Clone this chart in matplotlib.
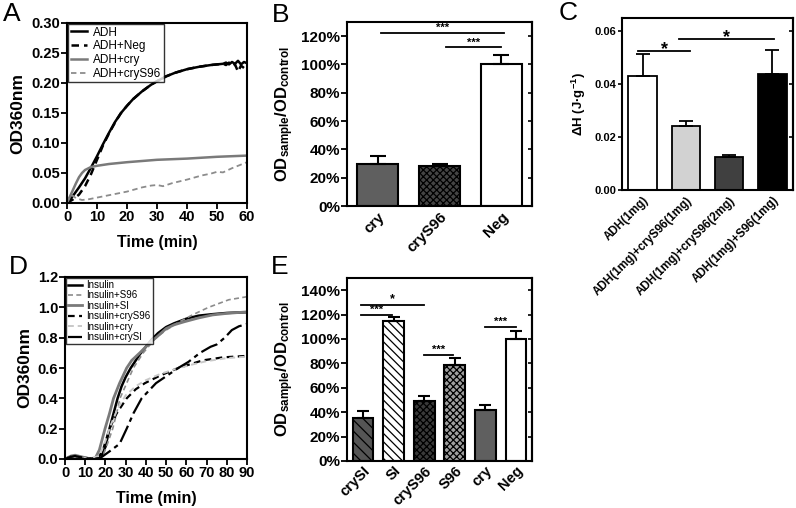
import matplotlib
matplotlib.use('Agg')
import matplotlib.pyplot as plt
import numpy as np

plt.rcParams['font.family'] = ['Liberation Sans', 'DejaVu Sans']
plt.rcParams['font.weight'] = 'bold'
plt.rcParams['mathtext.fontset'] = 'custom'
plt.rcParams['mathtext.rm'] = 'Liberation Sans'
plt.rcParams['mathtext.bf'] = 'Liberation Sans:bold'
plt.rcParams['mathtext.default'] = 'bf'
plt.rcParams['axes.linewidth'] = 1.5
plt.rcParams['hatch.linewidth'] = 0.9

# ---- panel A data (ADH aggregation, OD360 vs time) ----
t_adh = [0, 2, 4, 6, 7, 8, 10, 12, 14, 16, 18, 20, 22, 25, 28, 30, 33, 36, 40, 44, 48, 50,
         52, 53, 54, 55, 56, 57, 58, 59, 60]
od_adh = [0.0, 0.012, 0.026, 0.041, 0.05, 0.059, 0.078, 0.098, 0.117, 0.135, 0.15, 0.162,
          0.173, 0.186, 0.197, 0.203, 0.211, 0.217, 0.223, 0.227, 0.23, 0.231,
          0.232, 0.234, 0.231, 0.235, 0.232, 0.237, 0.231, 0.235, 0.233]
t_neg = [0, 2, 4, 6, 8, 10, 12, 14, 16, 18, 20, 22, 25, 28, 30, 33, 36, 40, 44, 48, 50,
         52, 53, 54, 55, 56, 57, 58, 59, 60]
od_neg = [0.0, 0.006, 0.014, 0.028, 0.048, 0.072, 0.096, 0.116, 0.134, 0.15, 0.162,
          0.173, 0.186, 0.197, 0.203, 0.211, 0.217, 0.223, 0.227, 0.23, 0.231,
          0.232, 0.23, 0.234, 0.228, 0.231, 0.219, 0.229, 0.225, 0.228]
t_cry = [0, 1, 2, 3, 4, 5, 6, 8, 10, 14, 20, 25, 30, 40, 50, 60]
od_cry = [0.0, 0.011, 0.022, 0.033, 0.043, 0.05, 0.055, 0.06, 0.062, 0.065, 0.068, 0.07,
          0.072, 0.074, 0.077, 0.079]
t_crys96 = [0, 1, 2, 3, 5, 7, 10, 15, 20, 25, 28, 30, 32, 35, 40, 45, 48, 50, 52, 55, 58, 60]
od_crys96 = [0.0, 0.012, 0.012, 0.008, 0.005, 0.006, 0.009, 0.014, 0.019, 0.026, 0.029,
             0.03, 0.028, 0.033, 0.039, 0.046, 0.049, 0.052, 0.051, 0.058, 0.064, 0.068]

# ---- panel B data ----
b_labels = ['cry', 'cryS96', 'Neg']
b_vals = [30, 28, 100]
b_err = [5, 1.5, 6.5]

# ---- panel C data ----
c_labels = ['ADH(1mg)', 'ADH(1mg)+cryS96(1mg)', 'ADH(1mg)+cryS96(2mg)', 'ADH(1mg)+S96(1mg)']
c_vals = [0.043, 0.024, 0.0123, 0.044]
c_err = [0.0085, 0.002, 0.001, 0.009]

# ---- panel D data (insulin aggregation) ----
t_ins = [0, 3, 5, 8, 12, 16, 18, 20, 22, 24, 26, 28, 30, 32.5, 35, 37, 40, 43, 46, 50, 54,
         60, 66, 73, 80, 90]
od_ins = [0.0, 0.015, 0.02, 0.012, 0.003, 0.005, 0.02, 0.08, 0.2, 0.3, 0.4, 0.48, 0.54, 0.6,
          0.65, 0.69, 0.74, 0.79, 0.83, 0.87, 0.895, 0.925, 0.945, 0.955, 0.963, 0.968]
t_s96 = [0, 3, 5, 8, 12, 17, 19, 21, 23.6, 25.5, 27.2, 30.5, 33.8, 38.7, 45, 50, 56, 63, 71,
         81, 90]
od_s96 = [0.0, 0.015, 0.02, 0.01, 0.002, 0.003, 0.03, 0.1, 0.2, 0.3, 0.4, 0.5, 0.6, 0.7, 0.8,
          0.85, 0.9, 0.95, 1.0, 1.05, 1.07]
t_si = [0, 3, 5, 8, 12, 15, 17, 19.8, 22, 24, 27, 30.5, 33, 37, 40, 43, 45, 50, 54, 59, 66,
        73, 80, 90]
od_si = [0.0, 0.02, 0.025, 0.015, 0.003, 0.006, 0.06, 0.2, 0.3, 0.4, 0.5, 0.6, 0.65, 0.7,
         0.74, 0.78, 0.8, 0.86, 0.885, 0.905, 0.93, 0.95, 0.96, 0.97]
t_ins_crys96 = [0, 3, 5, 8, 12, 16.5, 19, 22, 25.5, 30.5, 35, 39.5, 47, 56, 62, 68, 78, 90]
od_ins_crys96 = [0.0, 0.015, 0.02, 0.01, 0.002, 0.005, 0.07, 0.2, 0.3, 0.4, 0.46, 0.5, 0.55,
                 0.6, 0.625, 0.65, 0.67, 0.68]
t_ins_cry = [0, 3, 5, 8, 12, 17, 20, 22.5, 26, 30, 35, 40, 47, 55, 62, 70, 80, 90]
od_ins_cry = [0.0, 0.015, 0.02, 0.01, 0.002, 0.02, 0.12, 0.22, 0.33, 0.42, 0.48, 0.52, 0.56,
              0.595, 0.62, 0.645, 0.665, 0.675]
t_ins_crysi = [0, 3, 5, 8, 12, 17.3, 22, 27, 30.5, 33.8, 37.9, 45, 56, 61, 66.8, 72, 75, 79,
               82.5, 86, 90]
od_ins_crysi = [0.0, 0.015, 0.02, 0.01, 0.002, 0.005, 0.05, 0.1, 0.2, 0.3, 0.4, 0.5, 0.6,
                0.64, 0.7, 0.74, 0.755, 0.8, 0.85, 0.875, 0.89]

# ---- panel E data ----
e_labels = ['crySI', 'SI', 'cryS96', 'S96', 'cry', 'Neg']
e_vals = [35, 115, 49, 79, 42, 100]
e_err = [6, 3, 4.5, 5.5, 3.5, 6.5]

fig = plt.figure(figsize=(7.96, 5.08), dpi=100)
W, H = 796.0, 508.0


def make_axes(x0, y0, x1, y1):
    # pixel box -> figure fraction
    return fig.add_axes([x0 / W, 1 - y1 / H, (x1 - x0) / W, (y1 - y0) / H])


def right_ticks(ax, ticks, length=3):
    # small inward ticks on the right spine, no labels
    sec = ax.secondary_yaxis('right')
    sec.set_yticks(ticks)
    sec.tick_params(direction='in', length=length, width=1.2, labelright=False)


def sig(ax, x0, x1, y, txt, size=9, dy=0.0):
    ax.plot([x0, x1], [y, y], color='black', lw=1.3, clip_on=False)
    ax.text((x0 + x1) / 2, y + dy, txt, ha='center', va='bottom', fontsize=size,
            fontweight='bold')


# ---------------- A ----------------
axA = make_axes(67, 23, 247, 203)
axA.plot(t_adh, od_adh, color='black', lw=1.8, label='ADH')
axA.plot(t_neg, od_neg, color='black', lw=1.8, ls=(0, (3, 2)), label='ADH+Neg')
axA.plot(t_cry, od_cry, color='#7a7a7a', lw=1.8, label='ADH+cry')
axA.plot(t_crys96, od_crys96, color='#8c8c8c', lw=1.3, ls=(0, (3, 2)), label='ADH+cryS96')
axA.set_xlim(0, 60)
axA.set_ylim(0, 0.30)
axA.set_xticks(np.arange(0, 61, 10))
axA.set_yticks(np.arange(0, 0.31, 0.05))
axA.set_yticklabels(['%.2f' % v for v in np.arange(0, 0.31, 0.05)])
axA.tick_params(direction='out', length=4, width=1.3, labelsize=10.5, pad=1)
axA.set_xlabel('Time (min)', fontsize=11.5, fontweight='bold', labelpad=8)
axA.set_ylabel('OD360nm', fontsize=12.5, fontweight='bold', labelpad=4)
legA = axA.legend(loc='upper left', frameon=True, fancybox=False,
                  borderaxespad=0.1, handlelength=1.4, handletextpad=0.5, labelspacing=0.15,
                  borderpad=0.2, prop={'weight': 'normal', 'size': 8.5})
legA.get_frame().set_edgecolor('black')
legA.get_frame().set_linewidth(1.0)

# ---------------- B ----------------
axB = make_axes(347, 22, 532, 206)
xb = np.arange(len(b_vals))
b_face = ['#5f5f5f', '#444444', 'white']
b_hatch = [None, 'xxxxx', None]
for i in range(len(b_vals)):
    axB.bar(xb[i], b_vals[i], width=0.66, color=b_face[i], edgecolor='black', lw=1.5,
            hatch=b_hatch[i], zorder=2)
axB.errorbar(xb, b_vals, yerr=[np.zeros(len(b_err)), b_err], fmt='none', ecolor='black',
             elinewidth=1.5, capsize=6, capthick=1.5, zorder=3)
axB.set_xlim(-0.5, 2.5)
axB.set_ylim(0, 130)
axB.set_yticks(np.arange(0, 121, 20))
axB.set_yticklabels(['%d%%' % v for v in np.arange(0, 121, 20)])
axB.set_xticks(xb)
axB.set_xticklabels(b_labels, rotation=45, ha='right', rotation_mode='anchor',
                    fontweight='bold')
axB.tick_params(axis='x', length=0, labelsize=11, pad=3)
axB.tick_params(axis='y', direction='out', length=4, width=1.3, labelsize=11, pad=1)
right_ticks(axB, np.arange(0, 121, 20))
axB.set_ylabel('$OD_{sample}/OD_{control}$', fontsize=12, labelpad=4)
sig(axB, 0.05, 2.05, 122, '***', size=8)
sig(axB, 1.1, 2.0, 112, '***', size=8)

# ---------------- C ----------------
axC = make_axes(622, 18, 793, 190)
xc = np.arange(len(c_vals))
c_face = ['white', '#d2d2d2', '#404040', 'black']
axC.bar(xc, c_vals, width=0.66, color=c_face, edgecolor='black', lw=1.3, zorder=2)
axC.errorbar(xc, c_vals, yerr=[np.zeros(len(c_err)), c_err], fmt='none', ecolor='black',
             elinewidth=1.3, capsize=5, capthick=1.3, zorder=3)
axC.set_xlim(-0.48, 3.48)
axC.set_ylim(0, 0.065)
axC.set_yticks([0, 0.02, 0.04, 0.06])
axC.set_yticklabels(['0.00', '0.02', '0.04', '0.06'])
axC.set_xticks(xc)
axC.set_xticklabels(c_labels, rotation=45, ha='right', rotation_mode='anchor', fontsize=8.4,
                    fontweight='bold')
axC.tick_params(axis='x', length=0, pad=3)
axC.tick_params(axis='y', direction='out', length=3, width=1.2, labelsize=8, pad=1)
right_ticks(axC, [0, 0.02, 0.04, 0.06])
axC.set_ylabel('ΔH (J·g$^{-1}$)', fontsize=9.5, fontweight='bold', labelpad=5)
sig(axC, -0.1, 1.1, 0.0525, '*', size=13, dy=-0.0025)
sig(axC, 0.85, 3.05, 0.057, '*', size=13, dy=-0.0025)

# ---------------- D ----------------
axD = make_axes(65, 277, 247, 459)
axD.plot(t_ins, od_ins, color='black', lw=1.8, label='Insulin')
axD.plot(t_s96, od_s96, color='#8c8c8c', lw=1.2, ls=(0, (3, 2)), label='Insulin+S96')
axD.plot(t_si, od_si, color='#7a7a7a', lw=2.0, label='Insulin+SI')
axD.plot(t_ins_crys96, od_ins_crys96, color='black', lw=1.6, ls=(0, (3, 2)),
         label='Insulin+cryS96')
axD.plot(t_ins_cry, od_ins_cry, color='#c8c8c8', lw=1.4, ls=(0, (3, 2)), label='Insulin+cry')
axD.plot(t_ins_crysi, od_ins_crysi, color='black', lw=1.6, ls=(0, (8, 2, 2, 2)),
         label='Insulin+crySI')
axD.set_xlim(0, 90)
axD.set_ylim(0, 1.2)
axD.set_xticks(np.arange(0, 91, 10))
axD.set_yticks(np.arange(0, 1.21, 0.2))
axD.set_yticklabels(['%.1f' % v for v in np.arange(0, 1.21, 0.2)])
axD.tick_params(direction='out', length=4, width=1.3, labelsize=10.5, pad=1)
axD.set_xlabel('Time (min)', fontsize=11.5, fontweight='bold', labelpad=8)
axD.set_ylabel('OD360nm', fontsize=12.5, fontweight='bold', labelpad=4)
legD = axD.legend(loc='upper left', frameon=True, fancybox=False, borderaxespad=0.1,
                  handlelength=1.4, handletextpad=0.5, labelspacing=0.05, borderpad=0.2,
                  prop={'weight': 'normal', 'size': 7})
legD.get_frame().set_edgecolor('black')
legD.get_frame().set_linewidth(1.0)

# ---------------- E ----------------
axE = make_axes(347, 278, 532, 461)
xe = np.arange(len(e_vals))
e_face = ['#555555', 'white', '#3a3a3a', '#a0a0a0', '#5f5f5f', 'white']
e_hatch = ['\\\\\\', '\\\\\\\\', 'xxxxx', 'xxxxx', None, None]
for i in range(len(e_vals)):
    axE.bar(xe[i], e_vals[i], width=0.68, color=e_face[i], edgecolor='black', lw=1.5,
            hatch=e_hatch[i], zorder=2)
axE.errorbar(xe, e_vals, yerr=[np.zeros(len(e_err)), e_err], fmt='none', ecolor='black',
             elinewidth=1.5, capsize=4, capthick=1.5, zorder=3)
axE.set_xlim(-0.52, 5.52)
axE.set_ylim(0, 150)
axE.set_yticks(np.arange(0, 141, 20))
axE.set_yticklabels(['%d%%' % v for v in np.arange(0, 141, 20)])
axE.set_xticks(xe)
axE.set_xticklabels(e_labels, rotation=45, ha='right', rotation_mode='anchor',
                    fontweight='bold')
axE.tick_params(axis='x', length=0, labelsize=10.5, pad=2)
axE.tick_params(axis='y', direction='out', length=4, width=1.3, labelsize=11, pad=1)
right_ticks(axE, np.arange(0, 141, 20))
axE.set_ylabel('$OD_{sample}/OD_{control}$', fontsize=12, labelpad=4)
sig(axE, -0.05, 0.95, 120, '***', size=8)
sig(axE, -0.05, 2.0, 128, '*', size=9)
sig(axE, 2.0, 2.95, 87, '***', size=8)
sig(axE, 4.0, 5.0, 110, '***', size=8)

# panel letters
for letter, x, y in [('A', 3, 2), ('B', 272, 3), ('C', 559, 1), ('D', 9, 255), ('E', 271, 255)]:
    fig.text(x / W, 1 - y / H, letter, fontsize=19, fontweight='normal', va='top', ha='left')

fig.savefig('out.png', dpi=100)
plt.close(fig)
